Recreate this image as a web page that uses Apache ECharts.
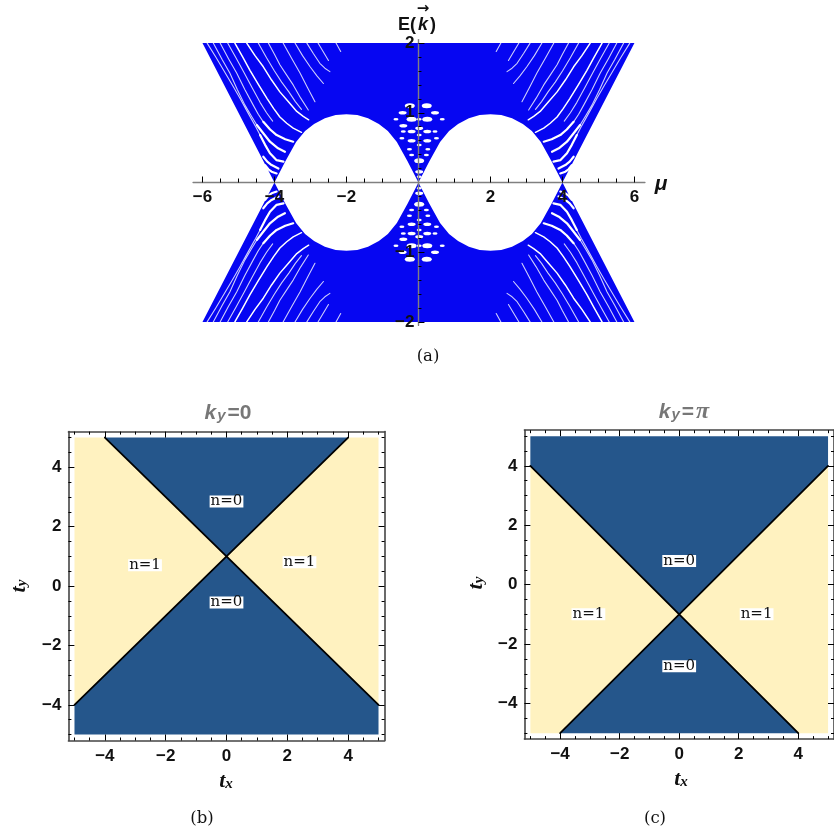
<!DOCTYPE html>
<html>
<head>
<meta charset="utf-8">
<script src="https://cdn.jsdelivr.net/npm/echarts@6/dist/echarts.min.js"></script>
<style>
html, body { margin: 0; padding: 0; background: #fff; overflow: hidden; }
#chart { width: 834px; height: 832px; }
</style>
</head>
<body>
<div id="chart"></div>
<script>
// (a) spectrum, values
var muMajor = [-6, -4, -2, 2, 4, 6];
var muMinor = [-5.5, -5, -4.5, -3.5, -3, -2.5, -1.5, -1, -0.5, 0.5, 1, 1.5, 2.5, 3, 3.5, 4.5, 5, 5.5];
var energyMajor = [-2, -1, 1, 2];
var energyMinor = [-1.8, -1.6, -1.4, -1.2, -0.8, -0.6, -0.4, -0.2, 0.2, 0.4, 0.6, 0.8, 1.2, 1.4, 1.6, 1.8];

// upper edge of the gap, both humps
var humpLeft = [[-4, 0], [-3.7, 0.3], [-3.4, 0.58], [-3.15, 0.74], [-2.9, 0.84], [-2.6, 0.92], [-2.3, 0.97], [-2, 0.98],
	[-1.7, 0.97], [-1.4, 0.92], [-1.1, 0.84], [-0.85, 0.74], [-0.6, 0.58], [-0.3, 0.3], [0, 0]];
var humpRight = [[0, 0], [0.3, 0.3], [0.6, 0.58], [0.85, 0.74], [1.1, 0.84], [1.4, 0.92], [1.7, 0.97], [2, 0.98],
	[2.3, 0.97], [2.6, 0.92], [2.9, 0.84], [3.15, 0.74], [3.4, 0.58], [3.7, 0.3], [4, 0]];
var bandCorners = [[-6, 2], [6, 2]];

// white gaps in the band, upper left quadrant only (the picture is mirror symmetric)
var thinStreaks = [
	[[-5.87, 2], [-5.63, 1.8], [-5.4, 1.6], [-5.17, 1.4], [-4.95, 1.2], [-4.8, 1.06], [-4.65, 0.92], [-4.52, 0.8], [-4.4, 0.68]],
	[[-5.7, 2], [-5.45, 1.76], [-5.24, 1.57], [-5.03, 1.33], [-4.82, 1.11], [-4.65, 0.96], [-4.49, 0.825]],
	[[-5.51, 2], [-5.28, 1.78], [-5.05, 1.57], [-4.82, 1.33], [-4.59, 1.11], [-4.45, 0.98], [-4.31, 0.87]],
	[[-5.3, 2], [-5.07, 1.79], [-4.85, 1.58], [-4.62, 1.36], [-4.4, 1.15], [-4.22, 1], [-4.05, 0.88]],
	[[-4.45, 2], [-4.22, 1.79], [-4, 1.6], [-3.8, 1.44], [-3.6, 1.3], [-3.42, 1.16], [-3.25, 1.05]],
	[[-4.17, 2], [-4, 1.84], [-3.85, 1.69], [-3.66, 1.54], [-3.48, 1.4], [-3.27, 1.21], [-3.06, 1.04]],
	[[-3.76, 2], [-3.52, 1.78], [-3.29, 1.57], [-3.08, 1.36], [-2.875, 1.16]],
	[[-3.43, 2], [-3.22, 1.82], [-3.01, 1.66], [-2.82, 1.53], [-2.64, 1.42]],
	[[-3.1, 2], [-2.92, 1.85], [-2.74, 1.71], [-2.6, 1.64], [-2.46, 1.59]],
	[[-2.79, 2], [-2.5, 1.75]],
	[[-2.29, 2], [-2.16, 1.88]]
];
var brightStreaks = [
	[[-5.1, 2], [-4.88, 1.8], [-4.68, 1.61], [-4.44, 1.4], [-4.2, 1.2], [-4.02, 1.06], [-3.85, 0.94], [-3.66, 0.85], [-3.48, 0.78], [-3.25, 0.72]],
	[[-4.77, 2], [-4.54, 1.82], [-4.31, 1.66], [-4.08, 1.47], [-3.85, 1.3], [-3.6, 1.15], [-3.38, 1.02], [-3.2, 0.95], [-3.05, 0.9]]
];
var thickArcs = [
	[[-4.49, 0.825], [-4.3, 0.7], [-4.125, 0.585], [-3.9, 0.49], [-3.71, 0.44]],
	[[-4.31, 0.87], [-4.12, 0.76], [-3.94, 0.68], [-3.7, 0.62], [-3.48, 0.585]],
	[[-4.4, 0.68], [-4.26, 0.54], [-4.125, 0.42], [-3.94, 0.32], [-3.75, 0.3]],
	[[-4.31, 0.37], [-4.2, 0.3], [-4.08, 0.25], [-3.89, 0.2]],
	[[-4.26, 0.25], [-4.17, 0.19], [-4.08, 0.155], [-3.94, 0.13]]
];
// holes around mu=0, upper half
var bigHoles = [[-0.24, 1.1], [0.23, 1.1], [-0.19, 0.906], [0.245, 0.906], [0.02, 0.313]];
var midHoles = [[-0.44, 1], [0.46, 1], [-0.42, 0.815], [0.02, 0.777], [-0.19, 0.73], [0.245, 0.73],
	[-0.19, 0.6], [0.245, 0.6], [0.02, 0.155]];
var smallHoles = [[-0.625, 0.906], [0.66, 0.906], [0.02, 0.906], [-0.42, 0.73], [0.46, 0.73], [-0.46, 0.634], [0.5, 0.634],
	[0.02, 0.68], [0.02, 0.538], [-0.25, 0.476], [0.26, 0.476], [-0.19, 0.395], [0.22, 0.395], [0.02, 0.083]];

// (b) and (c) phase diagrams
var phaseMajor = [-4, -2, 0, 2, 4];
var phaseMinor = [-5, -4.5, -3.5, -3, -2.5, -1.5, -1, -0.5, 0.5, 1, 1.5, 2.5, 3, 3.5, 4.5, 5];

var darkB = [[[-4, 5], [4, 5], [0, 1]], [[-5, -4], [0, 1], [5, -4], [5, -5], [-5, -5]]];
var creamB = [[[-5, 5], [-4, 5], [0, 1], [-5, -4]], [[5, 5], [4, 5], [0, 1], [5, -4]]];
var edgesB = [[[-4, 5], [0, 1], [5, -4]], [[4, 5], [0, 1], [-5, -4]]];
var labelsB = [[0, 2.85, 'n=0'], [-2.68, 0.7, 'n=1'], [2.4, 0.8, 'n=1'], [0, -0.55, 'n=0']];

var darkC = [[[-5, 5], [5, 5], [5, 4], [0, -1], [-5, 4]], [[-4, -5], [4, -5], [0, -1]]];
var creamC = [[[-5, 4], [0, -1], [-4, -5], [-5, -5]], [[5, 4], [0, -1], [4, -5], [5, -5]]];
var edgesC = [[[-5, 4], [0, -1], [4, -5]], [[5, 4], [0, -1], [-4, -5]]];
var labelsC = [[0, 0.8, 'n=0'], [-3.05, -1, 'n=1'], [2.6, -1, 'n=1'], [0, -2.75, 'n=0']];

var BLUE = '#0606f2', DARK = '#25568b', CREAM = '#fff2c0';
var SANS = '"Liberation Sans", Arial, sans-serif';
var SERIF = '"Liberation Serif", serif';

function flip(points, sx, sy) {
	return points.map(function(p) { return [sx * p[0], sy * p[1]]; });
}
function tickText(v) {
	return String(v).replace('-', '\u2212');
}

var chart = echarts.init(document.getElementById('chart'), null, { renderer: 'canvas' });

var grids = [
	{ left: 193.1, top: 39.6, width: 451.8, height: 285.8 },
	{ left: 68.4, top: 431.6, width: 316.2, height: 308.9 },
	{ left: 524.4, top: 430.2, width: 317.2, height: 308.9 }
];
var xAxes = [], yAxes = [], series = [];

function addAxis(list, opt) {
	list.push(echarts.util.merge({
		type: 'value',
		z: 10,
		splitLine: { show: false },
		axisLine: { show: false },
		axisTick: { show: true, inside: true, lineStyle: { color: '#000', width: 1 } },
		axisLabel: { show: false },
		animation: false
	}, opt, true));
	return list.length - 1;
}

// spectrum axes cross at the origin, their numbers are drawn as labels on the zero lines
var muAxis = addAxis(xAxes, {
	gridIndex: 0, position: 'bottom', min: -6.26, max: 6.29,
	axisLine: { show: true, onZero: true, lineStyle: { color: '#808080', width: 1.4 } },
	axisTick: { length: 6, customValues: muMajor }
});
addAxis(xAxes, { gridIndex: 0, position: 'bottom', min: -6.26, max: 6.29, axisLine: { onZero: true }, axisTick: { length: 4, customValues: muMinor } });
var energyAxis = addAxis(yAxes, {
	gridIndex: 0, position: 'left', min: -2.05, max: 2.05,
	axisLine: { show: true, onZero: true, lineStyle: { color: '#808080', width: 1.4 } },
	axisTick: { length: 6, customValues: energyMajor }
});
addAxis(yAxes, { gridIndex: 0, position: 'left', min: -2.05, max: 2.05, axisLine: { onZero: true }, axisTick: { length: 3, customValues: energyMinor } });

// framed axes: labelled major + minor on bottom/left, plain on top/right
function addFrame(gridIndex) {
	var range = { gridIndex: gridIndex, min: -5.2, max: 5.2 };
	function ax(list, position, values, len, extra) {
		return addAxis(list, echarts.util.merge(echarts.util.merge({ position: position, axisLine: { onZero: false }, axisTick: { length: len, customValues: values } }, range, true), extra || {}, true));
	}
	var lab = { show: true, customValues: phaseMajor, margin: 7, formatter: tickText, color: '#111', fontFamily: SANS, fontWeight: 'bold', fontSize: 17 };
	var frameLine = { show: true, onZero: false, lineStyle: { color: '#444', width: 1.6 } };
	var x = ax(xAxes, 'bottom', phaseMajor, 6, { axisLine: frameLine, axisLabel: lab });
	ax(xAxes, 'bottom', phaseMinor, 3);
	ax(xAxes, 'top', phaseMajor, 6, { axisLine: frameLine });
	ax(xAxes, 'top', phaseMinor, 3);
	var y = ax(yAxes, 'left', phaseMajor, 6, { axisLine: frameLine, axisLabel: lab });
	ax(yAxes, 'left', phaseMinor, 3);
	ax(yAxes, 'right', phaseMajor, 6, { axisLine: frameLine });
	ax(yAxes, 'right', phaseMinor, 3);
	return { x: x, y: y };
}

function addPolygons(axes, polygons, color) {
	series.push({
		type: 'custom',
		xAxisIndex: axes.x,
		yAxisIndex: axes.y,
		silent: true,
		animation: false,
		clip: false,
		data: polygons.map(function(p, i) { return [i]; }),
		encode: { tooltip: [] },
		renderItem: function(params, api) {
			var pts = polygons[params.dataIndex].map(function(p) { return api.coord(p); });
			return { type: 'polygon', shape: { points: pts }, style: { fill: color } };
		}
	});
}
function addLine(axes, points, color, width) {
	series.push({
		type: 'line',
		xAxisIndex: axes.x,
		yAxisIndex: axes.y,
		data: points,
		showSymbol: false,
		symbol: 'none',
		silent: true,
		animation: false,
		clip: true,
		lineStyle: { color: color, width: width, cap: 'round', join: 'round' }
	});
}
function addHoles(axes, points, size) {
	series.push({
		type: 'scatter',
		xAxisIndex: axes.x,
		yAxisIndex: axes.y,
		data: points,
		symbol: 'circle',
		symbolSize: size,
		silent: true,
		animation: false,
		itemStyle: { color: '#fff', opacity: 1 }
	});
}
function addLabels(axes, labels) {
	series.push({
		type: 'scatter',
		xAxisIndex: axes.x,
		yAxisIndex: axes.y,
		data: labels.map(function(l) { return { value: [l[0], l[1]], name: l[2] }; }),
		symbolSize: 0,
		silent: true,
		animation: false,
		itemStyle: { opacity: 1 },
		label: {
			show: true, position: 'inside', formatter: '{b}',
			fontFamily: '"DejaVu Serif", serif', fontSize: 15, color: '#111',
			backgroundColor: '#fff', padding: [0, 1, 0, 1], lineHeight: 12
		}
	});
}
function addTickNumbers(axes, points, position, distance) {
	series.push({
		type: 'scatter',
		xAxisIndex: axes.x,
		yAxisIndex: axes.y,
		z: 15,
		data: points,
		symbolSize: 0,
		silent: true,
		animation: false,
		itemStyle: { opacity: 1 },
		label: {
			show: true, position: position, distance: distance,
			formatter: function(p) { return tickText(position === 'bottom' ? p.value[0] : p.value[1]); },
			fontFamily: SANS, fontWeight: 'bold', fontSize: 17, color: '#111'
		}
	});
}

// (a)
var specAxes = { x: muAxis, y: energyAxis };
var upperBand = [bandCorners[0], bandCorners[1]].concat(humpRight.slice().reverse(), humpLeft.slice().reverse());
addPolygons(specAxes, [upperBand, flip(upperBand, 1, -1)], BLUE);
[[1, 1], [-1, 1], [1, -1], [-1, -1]].forEach(function(s) {
	thinStreaks.forEach(function(line) { addLine(specAxes, flip(line, s[0], s[1]), 'rgba(255,255,255,0.8)', 1.1); });
	brightStreaks.forEach(function(line) { addLine(specAxes, flip(line, s[0], s[1]), '#fff', 1.5); });
	thickArcs.forEach(function(line) { addLine(specAxes, flip(line, s[0], s[1]), '#fff', 2.2); });
});
[[bigHoles, [10, 5]], [midHoles, [8, 3.5]], [smallHoles, [5, 2.5]]].forEach(function(h) {
	addHoles(specAxes, h[0], h[1]);
	addHoles(specAxes, flip(h[0], 1, -1), h[1]);
});
addTickNumbers(specAxes, muMajor.map(function(v) { return [v, 0]; }), 'bottom', 6);
addTickNumbers(specAxes, energyMajor.map(function(v) { return [0, v]; }), 'left', 4);

// (b)
var axesB = addFrame(1);
addPolygons(axesB, creamB, CREAM);
addPolygons(axesB, darkB, DARK);
edgesB.forEach(function(e) { addLine(axesB, e, '#000', 1.8); });
addLabels(axesB, labelsB);

// (c)
var axesC = addFrame(2);
addPolygons(axesC, creamC, CREAM);
addPolygons(axesC, darkC, DARK);
edgesC.forEach(function(e) { addLine(axesC, e, '#000', 1.8); });
addLabels(axesC, labelsC);

var grayBold = { fontFamily: SANS, fontWeight: 'bold', fill: '#777', color: '#777' };
var titleRich = {
	k: Object.assign({ fontStyle: 'italic', fontSize: 21, padding: [0, 1, 0, 0] }, grayBold),
	s: Object.assign({ fontStyle: 'italic', fontSize: 15, padding: [6, 2, 0, 0] }, grayBold),
	v: Object.assign({ fontSize: 21 }, grayBold),
	p: { fontFamily: SERIF, fontWeight: 'bold', fontStyle: 'italic', fontSize: 24, fill: '#777', color: '#777', padding: [0, 0, 0, 2] }
};
var axisRich = {
	t: { fontFamily: SERIF, fontWeight: 'bold', fontStyle: 'italic', fontSize: 22, fill: '#111', color: '#111' },
	s: { fontFamily: SERIF, fontWeight: 'bold', fontStyle: 'italic', fontSize: 15, fill: '#111', color: '#111', padding: [7, 0, 0, 0] }
};
function text(x, y, str, style, rotation) {
	return {
		type: 'text', x: x, y: y, rotation: rotation || 0, z: 20, silent: true,
		style: Object.assign({ text: str, align: 'center', verticalAlign: 'middle', fill: '#111' }, style)
	};
}
var caption = { fontFamily: '"DejaVu Serif", serif', fontSize: 16.5 };

chart.setOption({
	animation: false,
	grid: grids,
	xAxis: xAxes,
	yAxis: yAxes,
	series: series,
	graphic: [
		text(417, 25, '{a|E(}{k|k}{a|)}', { rich: {
			a: { fontFamily: SANS, fontWeight: 'bold', fontSize: 18, fill: '#111', color: '#111' },
			k: { fontFamily: SANS, fontWeight: 'bold', fontStyle: 'italic', fontSize: 18, fill: '#111', color: '#111', padding: [0, 2, 0, 2] }
		} }),
		text(423, 9, '\u2192', { fontFamily: '"DejaVu Sans", sans-serif', fontWeight: 'bold', fontSize: 15 }, 0),
		text(661, 184, '\u03bc', { fontFamily: SANS, fontWeight: 'bold', fontStyle: 'italic', fontSize: 21 }),
		text(428, 357, '(a)', caption),
		text(202, 819, '(b)', caption),
		text(655, 819, '(c)', caption),
		text(228, 413, '{k|k}{s|y}{v|=0}', { rich: titleRich }),
		text(684, 412, '{k|k}{s|y}{v|=}{p|\u03c0}', { rich: titleRich }),
		text(226, 781, '{t|t}{s|x}', { rich: axisRich }),
		text(681, 779, '{t|t}{s|x}', { rich: axisRich }),
		text(19, 586, '{t|t}{s|y}', { rich: axisRich }, Math.PI / 2),
		text(476, 583, '{t|t}{s|y}', { rich: axisRich }, Math.PI / 2)
	]
});
</script>
</body>
</html>
